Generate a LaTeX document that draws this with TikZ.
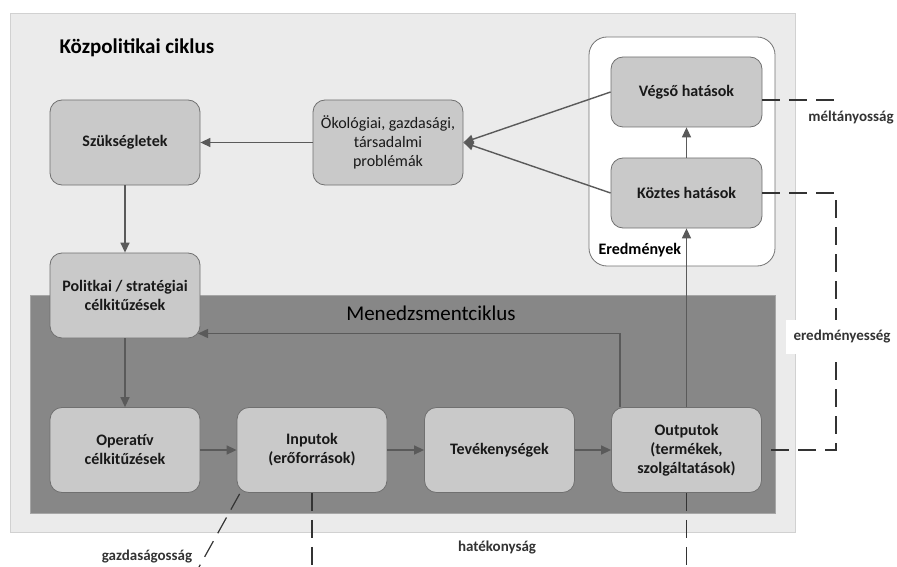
\documentclass[tikz,border=0pt]{standalone}
\usepackage{fontspec}
\setmainfont{Carlito}
\usetikzlibrary{arrows.meta}
\definecolor{bgouter}{HTML}{EBEBEB}
\definecolor{bgmgmt}{HTML}{878787}
\definecolor{boxfill}{HTML}{C9C9C9}
\definecolor{boxline}{HTML}{707070}
\definecolor{arrline}{HTML}{5A5A5A}
\definecolor{labtext}{HTML}{333333}
\tikzset{
  stagebox/.style = {draw=boxline,fill=boxfill,rounded corners=12pt,line width=0.8pt,
                     minimum width=150pt,minimum height=85pt,align=center,text=black!90,
                     font=\fontsize{16}{19}\selectfont\bfseries},
  flowarr/.style  = {-{Triangle[length=10pt,width=9pt]},draw=arrline,line width=1.4pt},
  measline/.style = {draw=labtext,line width=1.2pt,dash pattern=on 18pt off 9pt},
  measlab/.style  = {text=labtext,font=\fontsize{15}{18}\selectfont\bfseries}
}

\begin{document}
\begin{tikzpicture}[x=1pt,y=-1pt]
  \useasboundingbox (0,0) rectangle (897,567);
  % backgrounds
  \draw[fill=bgouter,draw=black!18,line width=0.8pt] (10,13) rectangle (795,532);
  \draw[fill=white,draw=black!55,line width=0.8pt,rounded corners=18pt] (589,37) rectangle (775,266);
  \draw[fill=bgmgmt,draw=black!35,line width=0.8pt] (30,295) rectangle (775,513);

  \node[anchor=west,font=\fontsize{21}{25}\selectfont\bfseries] (kptitle) at (56,48) {Közpolitikai ciklus};
  \node[font=\fontsize{21}{25}\selectfont,text=black] (mgtitle) at (431,313) {Menedzsmentciklus};
  \node[anchor=west,font=\fontsize{16}{19}\selectfont\bfseries] (eredlab) at (595,250) {Eredmények};

  % stages
  \node[stagebox] (szuk) at (125,142.5) {Szükségletek};
  \node[stagebox,font=\fontsize{16}{19}\selectfont] (probl) at (388,142.5) {Ökológiai, gazdasági,\\társadalmi\\problémák};
  \node[stagebox,minimum width=151pt,minimum height=70pt] (vegso) at (686.5,92) {Végső hatások};
  \node[stagebox,minimum width=151pt,minimum height=70pt] (koztes) at (686.5,193) {Köztes hatások};
  \node[stagebox] (polit) at (125,295.5) {Politkai / stratégiai\\célkitűzések};
  \node[stagebox] (operativ) at (125,450) {Operatív\\célkitűzések};
  \node[stagebox] (input) at (312,450) {Inputok\\(erőforrások)};
  \node[stagebox] (tevek) at (499.5,450) {Tevékenységek};
  \node[stagebox] (output) at (686.5,450) {Outputok\\(termékek,\\szolgáltatások)};

  % flow
  \draw[flowarr] (probl) -- (szuk);
  \draw[flowarr] (vegso.west) -- (probl.east);
  \draw[flowarr] (koztes.west) -- (probl.east);
  \draw[flowarr] (koztes) -- (vegso);
  \draw[flowarr] (szuk) -- (polit);
  \draw[flowarr] (polit) -- (operativ);
  \draw[flowarr] (operativ) -- (input);
  \draw[flowarr] (input) -- (tevek);
  \draw[flowarr] (tevek) -- (output);
  \draw[flowarr] (output) -- (koztes);
  \coordinate (fbEnd) at (198,333.5);
  \draw[flowarr] ([xshift=9pt]output.north west) |- (fbEnd);

  % measures
  \coordinate (meltEnd) at (838,100);
  \draw[measline] ([yshift=-8pt]vegso.east) -- (meltEnd);
  \node[measlab] (melt) at (851,118) {méltányosság};

  \coordinate (eredTop) at (836,193);
  \coordinate (eredBot) at (836,450);
  \draw[measline] (koztes.east) -- (eredTop) -- (eredBot) -- (output.east);
  \node[measlab,fill=white,inner xsep=8pt,inner ysep=10pt] (ered) at (842,337) {eredményesség};

  \coordinate (hatL) at (312,567);
  \coordinate (hatR) at (686.5,567);
  \draw[measline] (input.south) -- (hatL);
  \draw[measline] (output.south) -- (hatR);
  \node[measlab] (hat) at (497,548) {hatékonyság};

  \coordinate (gazdEnd) at (199,567);
  \draw[measline] ([shift={(3pt,-1pt)}]input.south west) -- (gazdEnd);
  \node[measlab] (gazd) at (147,557) {gazdaságosság};
\end{tikzpicture}
\end{document}
